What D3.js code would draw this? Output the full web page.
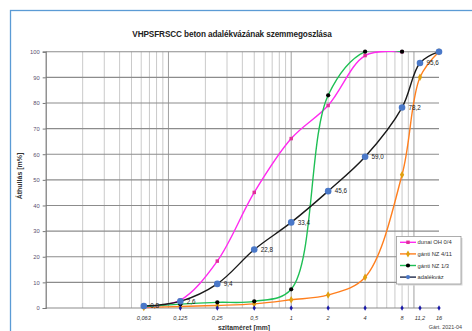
<!DOCTYPE html>
<html>
<head>
<meta charset="utf-8">
<script src="https://cdn.jsdelivr.net/npm/d3@7"></script>
<style>
  html, body { margin: 0; padding: 0; background: #fff; }
  svg { display: block; font-family: "Liberation Sans", Arial, sans-serif; }
</style>
</head>
<body>
<svg id="chart" width="472" height="331"></svg>
<script>
// Sieve sizes (mm) and passing percentages
const sieves = [0.063, 0.125, 0.25, 0.5, 1, 2, 4, 8, 11.2, 16];
const sieveLabels = ["0,063", "0,125", "0,25", "0,5", "1", "2", "4", "8", "11,2", "16"];
const dunaiOH04 = [0.5, 3.1, 18.3, 45.1, 66.1, 79.0, 98.5, 100];
const gantiNZ411 = [0.2, 0.6, 1.0, 1.6, 3.2, 5.1, 12.0, 52.0, 90.0, 100];
const gantiNZ13 = [0.5, 1.5, 2.2, 2.6, 7.3, 83.0, 100, 100];
const adalekvaz = [0.8, 2.6, 9.4, 22.8, 33.4, 45.6, 59.0, 78.2, 95.6, 100];
const yTicks = [0, 10, 20, 30, 40, 50, 60, 70, 80, 90, 100];
const seriesNames = ["dunai OH 0/4", "gánti NZ 4/11", "gánti NZ 1/3", "adalékváz"];

const svg = d3.select("#chart");
const plotLeft = 45.7, plotRight = 439, plotTop = 51.7, plotBottom = 308;

const x = d3.scaleLog().domain([0.01, 16]).range([plotLeft, plotRight]);
const y = d3.scaleLinear().domain([0, 100]).range([plotBottom, plotTop]);

// Smoothed lines are clipped to the plot area
svg.append("defs").append("clipPath").attr("id", "plotClip")
  .append("rect").attr("x", plotLeft).attr("y", plotTop - 0.8)
  .attr("width", plotRight - plotLeft + 2).attr("height", plotBottom - plotTop + 1.6);

// Chart frame
svg.append("rect").attr("x", 10.5).attr("y", 10.5).attr("width", 480).attr("height", 340)
  .attr("fill", "#fff").attr("stroke", "#5b9bd5").attr("stroke-width", 1.3);

// Title
svg.append("text").attr("x", 232).attr("y", 37).attr("text-anchor", "middle")
  .attr("font-size", 8.2).attr("font-weight", "bold").attr("fill", "#222")
  .attr("letter-spacing", -0.1)
  .text("VHPSFRSCC beton adalékvázának szemmegoszlása");

// Vertical log gridlines (minor 2..9 of each decade, majors at decades)
const g = svg.append("g");
const minorVals = [];
[0.01, 0.1, 1, 10].forEach(d => {
  for (let k = 2; k <= 9; k++) { const v = d * k; if (v < 16) minorVals.push(v); }
});
g.selectAll("line.vmin").data(minorVals).join("line")
  .attr("x1", d => x(d)).attr("x2", d => x(d)).attr("y1", plotTop).attr("y2", plotBottom)
  .attr("stroke", "#c4c4c4").attr("stroke-width", 0.9);
g.selectAll("line.vmaj").data([0.1, 1, 10]).join("line")
  .attr("x1", d => x(d)).attr("x2", d => x(d)).attr("y1", plotTop).attr("y2", plotBottom)
  .attr("stroke", "#a0a0a0").attr("stroke-width", 1);

// Horizontal gridlines
g.selectAll("line.h").data(yTicks).join("line")
  .attr("x1", plotLeft).attr("x2", plotRight).attr("y1", d => y(d)).attr("y2", d => y(d))
  .attr("stroke", "#8c8c8c").attr("stroke-width", 1.1);

// Y axis
const yAxis = d3.axisLeft(y).tickValues(yTicks).tickSize(3).tickPadding(3);
const ya = svg.append("g").attr("transform", `translate(${plotLeft},0)`).call(yAxis);
ya.select(".domain").attr("stroke", "#777").attr("stroke-width", 1.2);
ya.selectAll(".tick line").attr("stroke", "#777");
ya.selectAll(".tick text").attr("font-size", 5.8).attr("fill", "#5a5070")
  .attr("font-family", "Liberation Sans, Arial, sans-serif");

svg.append("text").attr("transform", `translate(22,176) rotate(-90)`)
  .attr("text-anchor", "middle").attr("font-size", 7).attr("font-weight", "bold").attr("fill", "#333")
  .text("Áthullás [m%]");

// Series (centripetal Catmull-Rom smoothing)
const line = d3.line().x(d => x(d[0])).y(d => y(d[1])).curve(d3.curveCatmullRom.alpha(0.5));
const pairs = vals => vals.map((v, i) => [sieves[i], v]);

const sDunai = { name: seriesNames[0], vals: dunaiOH04, color: "#ff2bef", mcolor: "#e0309a", shape: d3.symbolSquare, msize: 12 };
const s411 = { name: seriesNames[1], vals: gantiNZ411, color: "#ff7f1e", mcolor: "#e0a010", shape: d3.symbolDiamond, msize: 16 };
const s13 = { name: seriesNames[2], vals: gantiNZ13, color: "#1fbf55", mcolor: "#000", shape: d3.symbolCircle, msize: 14 };
const sAll = { name: seriesNames[3], vals: adalekvaz, color: "#1a1a1a", mcolor: "#4a78c8", shape: d3.symbolCircle, msize: 34 };
const drawOrder = [s411, sDunai, s13, sAll];

const linesG = svg.append("g").attr("clip-path", "url(#plotClip)");
drawOrder.forEach(s => {
  linesG.append("path").datum(pairs(s.vals)).attr("d", line)
    .attr("fill", "none").attr("stroke", s.color).attr("stroke-width", 1.4);
});
drawOrder.forEach(s => {
  svg.append("g").selectAll("path").data(pairs(s.vals)).join("path")
    .attr("transform", d => `translate(${x(d[0])},${y(d[1])})`)
    .attr("d", d3.symbol().type(s.shape).size(s.msize)).attr("fill", s.mcolor);
});

// Value labels on the aggregate curve
svg.append("g").selectAll("text").data(pairs(adalekvaz).slice(0, 9)).join("text")
  .attr("x", d => x(d[0]) + 6.5).attr("y", d => y(d[1])).attr("dy", "0.35em")
  .attr("font-size", 6.3).attr("fill", "#222")
  .text(d => d3.format(".1f")(d[1]).replace(".", ","));

// Sieve markers and labels along the base line
svg.append("g").selectAll("path").data(sieves.slice(1)).join("path")
  .attr("transform", d => `translate(${x(d)},${y(0)})`)
  .attr("d", d3.symbol().type(d3.symbolDiamond).size(9)).attr("fill", "#1a1aa8");
svg.append("g").selectAll("text").data(sieves).join("text")
  .attr("x", d => x(d)).attr("y", 320).attr("text-anchor", "middle")
  .attr("font-size", 5.6).attr("font-style", "italic").attr("fill", "#333")
  .text((d, i) => sieveLabels[i]);

svg.append("text").attr("x", 244).attr("y", 330).attr("text-anchor", "middle")
  .attr("font-size", 6.8).attr("font-weight", "bold").attr("fill", "#333")
  .text("szitaméret [mm]");

svg.append("text").attr("x", 462).attr("y", 329).attr("text-anchor", "end")
  .attr("font-size", 5.4).attr("fill", "#444").text("Gárt. 2021-04");

// Legend
const legendOrder = [sDunai, s411, s13, sAll];
const lg = svg.append("g");
lg.append("rect").attr("x", 398).attr("y", 238).attr("width", 64.5).attr("height", 47.5).attr("fill", "#d8d8d8");
lg.append("rect").attr("x", 396.5).attr("y", 236.5).attr("width", 64.5).attr("height", 47.5)
  .attr("fill", "#fff").attr("stroke", "#9a9a9a").attr("stroke-width", 0.8);
legendOrder.forEach((s, i) => {
  const yy = 242.3 + i * 11.6;
  lg.append("line").attr("x1", 400).attr("x2", 416).attr("y1", yy).attr("y2", yy)
    .attr("stroke", i === 3 ? "#1f2a4a" : s.color).attr("stroke-width", 1.4);
  lg.append("path").attr("transform", `translate(408,${yy})`)
    .attr("d", d3.symbol().type(s.shape).size(Math.min(s.msize, 14))).attr("fill", s.mcolor);
  lg.append("text").attr("x", 417.5).attr("y", yy).attr("dy", "0.35em")
    .attr("font-size", 5.8).attr("fill", "#333").text(s.name);
});
</script>
</body>
</html>
